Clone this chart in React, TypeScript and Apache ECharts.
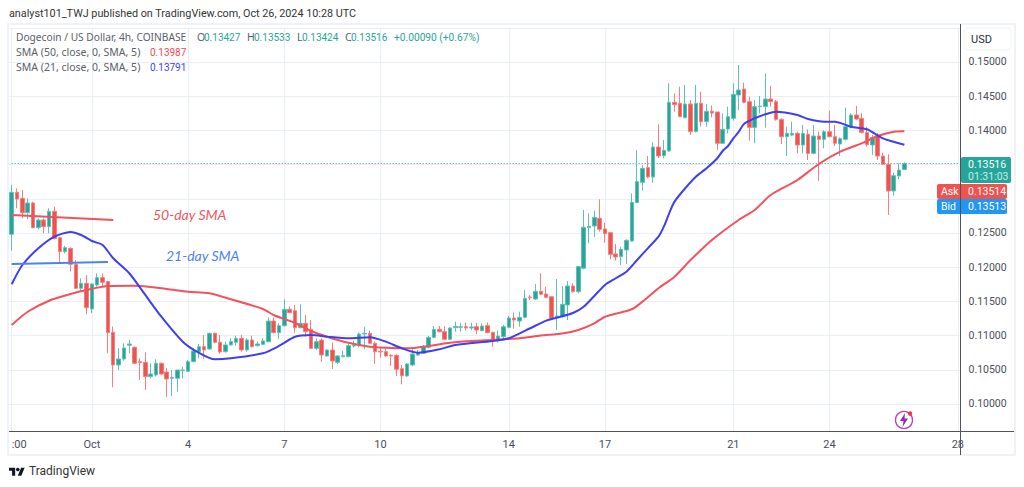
import React, { useEffect, useRef } from "react";
import * as echarts from "echarts";

// Each row: [open, close, low, high]
const candlesEarly = [
[0.12481,0.13095,0.12242,0.13202],[0.13095,0.12997,0.12861,0.13153],[0.13007,0.12797,0.12714,0.13129],[0.12797,0.12939,0.12700,0.13007],
[0.12939,0.12578,0.12568,0.12958],[0.12578,0.12690,0.12554,0.12714],[0.12690,0.12593,0.12495,0.12714],[0.12593,0.12817,0.12495,0.12861],
[0.12817,0.12417,0.12407,0.12885],[0.12432,0.12227,0.12066,0.12446],[0.12227,0.12286,0.12203,0.12310],[0.12276,0.12042,0.11935,0.12286],
[0.12042,0.11691,0.11681,0.12105],[0.11691,0.11764,0.11657,0.11837],[0.11764,0.11408,0.11316,0.11886],[0.11389,0.11754,0.11326,0.11764],
[0.11740,0.11847,0.11715,0.11910],[0.11847,0.11779,0.11715,0.11910],[0.11789,0.11043,0.10741,0.11798],[0.11048,0.10570,0.10244,0.11131],
[0.10570,0.10658,0.10497,0.10814],[0.10658,0.10819,0.10634,0.10887],[0.10858,0.10877,0.10741,0.10936],[0.10829,0.10595,0.10585,0.10838],
[0.10619,0.10604,0.10351,0.10668],[0.10609,0.10400,0.10205,0.10755],[0.10400,0.10439,0.10375,0.10595],[0.10424,0.10595,0.10400,0.10653],
[0.10595,0.10439,0.10424,0.10604],[0.10468,0.10366,0.10107,0.10522],[0.10375,0.10390,0.10117,0.10497],[0.10375,0.10497,0.10180,0.10497],
[0.10488,0.10497,0.10375,0.10546],[0.10478,0.10619,0.10468,0.10643],[0.10619,0.10775,0.10609,0.10814],[0.10765,0.10838,0.10668,0.10877],
[0.10838,0.10790,0.10658,0.11009],[0.10804,0.11033,0.10790,0.11043],[0.11033,0.10902,0.10887,0.11043],[0.10902,0.10760,0.10731,0.11009],
[0.10765,0.10863,0.10751,0.10911],[0.10863,0.10911,0.10853,0.10960],[0.10902,0.10960,0.10853,0.10999],[0.10960,0.10790,0.10765,0.11009],
[0.10790,0.10936,0.10765,0.10960],[0.10936,0.10838,0.10824,0.10999],[0.10853,0.10877,0.10838,0.10911],
];
const candlesMiddle = [
[0.10872,0.10921,0.10862,0.10960],[0.10911,0.11213,0.10901,0.11267],[0.11213,0.11043,0.11033,0.11267],[0.11043,0.11145,0.10950,0.11179],
[0.11145,0.11384,0.11130,0.11530],[0.11384,0.11335,0.11325,0.11423],[0.11364,0.11116,0.11043,0.11447],[0.11116,0.11179,0.11106,0.11457],
[0.11179,0.11057,0.10984,0.11301],[0.11091,0.10814,0.10814,0.11228],[0.10814,0.10911,0.10789,0.10960],[0.10935,0.10716,0.10619,0.10960],
[0.10702,0.10789,0.10692,0.10799],[0.10789,0.10628,0.10512,0.10897],[0.10609,0.10702,0.10585,0.10716],[0.10692,0.10706,0.10682,0.10780],
[0.10692,0.10853,0.10682,0.10887],[0.10848,0.10862,0.10828,0.10926],[0.10853,0.11023,0.10828,0.11043],[0.11023,0.11033,0.10799,0.11130],
[0.11033,0.10887,0.10877,0.11072],[0.10887,0.10765,0.10585,0.10911],[0.10770,0.10760,0.10677,0.10828],[0.10765,0.10702,0.10692,0.10814],
[0.10711,0.10702,0.10555,0.10731],[0.10711,0.10507,0.10409,0.10726],[0.10516,0.10414,0.10287,0.10570],[0.10409,0.10585,0.10399,0.10595],
[0.10570,0.10731,0.10555,0.10799],[0.10716,0.10750,0.10702,0.10789],[0.10741,0.10838,0.10731,0.10862],[0.10828,0.10974,0.10814,0.10994],
[0.10974,0.11091,0.10960,0.11140],[0.11091,0.11057,0.11048,0.11140],[0.11057,0.10945,0.10935,0.11140],[0.10945,0.11111,0.10935,0.11121],
[0.11116,0.11135,0.11057,0.11203],[0.11121,0.11130,0.11057,0.11189],[0.11130,0.11111,0.11072,0.11189],[0.11111,0.11126,0.11082,0.11189],
[0.11130,0.11082,0.11023,0.11189],[0.11072,0.11140,0.11062,0.11179],[0.11145,0.11043,0.11033,0.11189],[0.11048,0.10921,0.10838,0.11057],
[0.10921,0.10994,0.10897,0.11072],[0.10984,0.11130,0.10935,0.11155],[0.11121,0.11257,0.11106,0.11286],[0.11257,0.11228,0.11101,0.11335],
[0.11213,0.11267,0.11130,0.11350],[0.11267,0.11545,0.11252,0.11666],[0.11564,0.11554,0.11520,0.11593],[0.11535,0.11647,0.11520,0.11754],
[0.11647,0.11603,0.11593,0.11910],
];
const candlesLate = [
[0.11608,0.11560,0.11545,0.11715],[0.11569,0.11253,0.11238,0.11569],[0.11267,0.11287,0.11082,0.11828],[0.11277,0.11457,0.11267,0.11725],
[0.11448,0.11725,0.11228,0.11798],[0.11725,0.11642,0.11628,0.11764],[0.11642,0.12008,0.11618,0.12018],[0.11984,0.12583,0.11969,0.12836],
[0.12578,0.12598,0.12349,0.12788],[0.12602,0.12729,0.12446,0.12827],[0.12715,0.12554,0.12520,0.12992],[0.12559,0.12490,0.12359,0.12651],
[0.12505,0.12188,0.12115,0.12510],[0.12193,0.12149,0.12096,0.12339],[0.12154,0.12261,0.12032,0.12300],[0.12252,0.12393,0.12047,0.12407],
[0.12383,0.12948,0.12373,0.13080],[0.12944,0.13251,0.12934,0.13713],[0.13241,0.13445,0.13119,0.13494],[0.13455,0.13319,0.13299,0.13626],
[0.13319,0.13757,0.13236,0.13826],[0.13757,0.13626,0.13592,0.14089],[0.13631,0.13709,0.13592,0.13860],[0.13699,0.14410,0.13689,0.14688],
[0.14410,0.14376,0.14274,0.14542],[0.14396,0.14201,0.14201,0.14639],[0.14186,0.14386,0.14176,0.14664],[0.14386,0.13982,0.13933,0.14444],
[0.13982,0.14396,0.13972,0.14664],[0.14396,0.14128,0.14055,0.14566],[0.14128,0.14279,0.14055,0.14386],[0.14279,0.14254,0.14191,0.14362],
[0.14269,0.13811,0.13713,0.14269],[0.13811,0.14016,0.13801,0.14250],[0.14020,0.14201,0.13957,0.14347],[0.14176,0.14527,0.14142,0.14688],
[0.14517,0.14590,0.14298,0.14956],[0.14605,0.14410,0.14395,0.14697],[0.14420,0.14044,0.13850,0.14493],[0.14044,0.14347,0.13811,0.14444],
[0.14347,0.14356,0.14249,0.14503],[0.14347,0.14459,0.14040,0.14834],[0.14459,0.14420,0.14347,0.14649],[0.14420,0.14161,0.14142,0.14444],
[0.14161,0.13908,0.13801,0.14176],[0.13908,0.13957,0.13625,0.14054],[0.13932,0.13957,0.13918,0.14127],[0.13957,0.13786,0.13664,0.13981],
[0.13786,0.13957,0.13664,0.14079],[0.13942,0.13664,0.13567,0.14015],[0.13664,0.13918,0.13655,0.14079],[0.13918,0.13869,0.13265,0.13981],
[0.13869,0.13981,0.13737,0.14005],[0.13981,0.13908,0.13898,0.14288],[0.13908,0.13811,0.13772,0.14079],[0.13801,0.13879,0.13625,0.13898],
[0.13869,0.14054,0.13850,0.14332],[0.14044,0.14225,0.14030,0.14249],[0.14225,0.14166,0.14152,0.14356],[0.14176,0.13971,0.13957,0.14249],
[0.13971,0.13791,0.13762,0.14054],[0.13786,0.13898,0.13640,0.13932],[0.13918,0.13625,0.13567,0.13957],[0.13625,0.13504,0.13494,0.13674],
[0.13504,0.13114,0.12763,0.13650],[0.13114,0.13338,0.13046,0.13382],[0.13333,0.13421,0.13289,0.13517],[0.13427,0.13516,0.13424,0.13533],
];

// SMA readings: [candle index, value]
const sma50 = [
[0,0.11155],[3,0.11349],[7,0.11510],[11,0.11608],[14,0.11667],[18,0.11725],[23,0.11729],[29,0.11681],[33,0.11642],[37,0.11618],
[41,0.11531],[47,0.11389],[49,0.11301],[53,0.11184],[56,0.11067],[59,0.10984],[63,0.10896],[67,0.10838],[70,0.10823],[74,0.10814],
[78,0.10848],[82,0.10896],[85,0.10917],[90,0.10936],[95,0.10960],[99,0.11000],[103,0.11030],[106,0.11082],[109,0.11180],[111,0.11276],
[116,0.11385],[118,0.11496],[121,0.11692],[124,0.11861],[127,0.12105],[131,0.12398],[136,0.12690],[139,0.12836],[142,0.13056],[147,0.13275],
[151,0.13509],[155,0.13689],[159,0.13811],[162,0.13918],[165,0.13981],[167,0.13987],
];
const sma21 = [
[0,0.11750],[2,0.12032],[5,0.12276],[8,0.12446],[11,0.12515],[13,0.12471],[15,0.12383],[17,0.12325],[19,0.12130],[22,0.11911],
[25,0.11594],[28,0.11276],[32,0.10911],[35,0.10750],[38,0.10654],[41,0.10668],[47,0.10741],[50,0.10848],[53,0.10984],[56,0.11009],
[59,0.10984],[63,0.10960],[67,0.10975],[70,0.10911],[73,0.10814],[76,0.10750],[80,0.10800],[83,0.10863],[90,0.10921],[93,0.10960],
[97,0.11107],[100,0.11218],[102,0.11262],[105,0.11330],[107,0.11422],[109,0.11579],[111,0.11740],[113,0.11838],[115,0.11934],[117,0.12105],
[119,0.12276],[121,0.12446],[122,0.12592],[123,0.12788],[124,0.12958],[126,0.13154],[128,0.13323],[130,0.13446],[132,0.13592],[133,0.13699],
[134,0.13772],[135,0.13884],[136,0.13977],[137,0.14094],[139,0.14177],[141,0.14235],[143,0.14273],[147,0.14225],[149,0.14167],[152,0.14127],
[154,0.14127],[157,0.14054],[160,0.14016],[163,0.13884],[167,0.13791],
];
const note50Line = [[0,0.12763],[19,0.12690]];
const note21Line = [[0,0.12047],[18,0.12076]];
const lastPriceLine = [[0,0.13516],[177,0.13516]];

const axisSlots = 178;
const xTicks: Record<number, string> = { 0: ":00", 15: "Oct", 33: "4", 51: "7", 69: "10", 93: "14", 111: "17", 135: "21", 153: "24", 177: "28" };
const yLabels = [0.1, 0.105, 0.11, 0.115, 0.12, 0.125, 0.14, 0.145, 0.15];

const GREEN = "#26a69a";
const RED = "#ef5350";
const GREEN_SOFT = "#63c0b6";
const RED_SOFT = "#f47f7c";
const FONT = "Roboto, sans-serif";
const WIDE = "'Noto Sans', sans-serif";

const TV_LOGO = "M14 22H7V11H0V4h14v18zM28 22h-8l7.5-18h8L28 22z";
const BOLT = "M5 0L0 8h3.5L2.5 14L8 5.5H4.5z";

export default function App() {
  const ref = useRef<HTMLDivElement>(null);
  useEffect(() => {
    if (!ref.current) return;
    echarts.graphic.registerShape("tvmark", (echarts.graphic as any).extendPath(TV_LOGO, {}));
    echarts.graphic.registerShape("bolt", (echarts.graphic as any).extendPath(BOLT, {}));

    const chart = echarts.init(ref.current, undefined, { renderer: "svg" });
    const candles = [...candlesEarly, ...candlesMiddle, ...candlesLate];
    const categories = Array.from({ length: axisSlots }, (_, i) => xTicks[i] ?? "");
    const isTick = (i: number) => xTicks[i] !== undefined;
    const txt = (x: number, y: number, text: string, fill: string, size = 10.5, family = FONT, extra: any = {}) => ({
      type: "text", x, y, z: 20,
      style: { text, fill, font: `${size}px ${family}`, align: "left", verticalAlign: "middle", ...extra },
    });
    const box = (x: number, y: number, width: number, height: number, fill: string, r: any = 2) => ({
      type: "rect", z: 19, shape: { x, y, width, height, r }, style: { fill },
    });
    const option: any = {
      animation: false,
      backgroundColor: "#ffffff",
      grid: { left: 9, top: 28, width: 951.5, height: 403, containLabel: false },
      xAxis: {
        type: "category",
        data: categories,
        boundaryGap: true,
        axisLine: { show: true, lineStyle: { color: "#50535e", width: 1 } },
        axisTick: { show: false },
        axisLabel: {
          interval: (i: number) => isTick(i),
          color: "#4a4e5a",
          fontSize: 11,
          fontFamily: FONT,
          margin: 8,
          hideOverlap: false,
          alignMinLabel: "left",
        },
        splitLine: {
          show: true,
          interval: (i: number) => isTick(i),
          alignWithLabel: true,
          lineStyle: { color: "#e9eff5", width: 1 },
        },
      },
      yAxis: {
        type: "value",
        position: "right",
        min: 0.09605,
        max: 0.15497,
        scale: true,
        splitNumber: 12,
        axisLine: { show: false },
        axisTick: { show: false },
        axisLabel: {
          customValues: yLabels,
          formatter: (v: number) => v.toFixed(5),
          color: "#4a4e5a",
          fontSize: 10.5,
          fontFamily: FONT,
          margin: 8,
        },
        splitLine: { show: true, lineStyle: { color: "#e9eff5", width: 1 } },
      },
      series: [
        { type: "line", name: "Last price", data: lastPriceLine, showSymbol: false, z: 1, lineStyle: { type: [1, 2], color: GREEN, width: 1 }, itemStyle: { color: GREEN } },
        {
          type: "candlestick",
          name: "Dogecoin / US Dollar",
          data: candles,
          z: 2,
          barWidth: 4,
          itemStyle: { color: GREEN, color0: RED, borderColor: GREEN_SOFT, borderColor0: RED_SOFT, borderWidth: 1 },
        },
        { type: "line", name: "SMA 50", data: sma50, smooth: 0.25, showSymbol: false, z: 5, lineStyle: { color: "#f4515c", width: 2 }, itemStyle: { color: "#f4515c" } },
        { type: "line", name: "SMA 21", data: sma21, smooth: 0.25, showSymbol: false, z: 6, lineStyle: { color: "#3f3ff0", width: 2 }, itemStyle: { color: "#3f3ff0" } },
        { type: "line", name: "50-day line", data: note50Line, showSymbol: false, z: 7, lineStyle: { color: "#f4515c", width: 2 } },
        { type: "line", name: "21-day line", data: note21Line, showSymbol: false, z: 7, lineStyle: { color: "#4a86e8", width: 2 } },
      ],
      graphic: { elements: [
        { type: "rect", z: 1, shape: { x: 8, y: 24, width: 1007, height: 431 }, style: { fill: "none", stroke: "#eff2f6", lineWidth: 2 } },
        { type: "line", z: 18, shape: { x1: 960.5, y1: 24, x2: 960.5, y2: 455 }, style: { stroke: "#50535e", lineWidth: 1 } },
        { type: "line", z: 18, shape: { x1: 960, y1: 431.5, x2: 1014, y2: 431.5 }, style: { stroke: "#50535e", lineWidth: 1 } },

        txt(9, 13, "analyst101_TWJ published on TradingView.com, Oct 26, 2024 10:28 UTC", "#333333", 10.8),

        txt(16, 37, "Dogecoin / US Dollar, 4h, COINBASE", "#5d606b", 10.2, WIDE),
        txt(197, 37, "O", "#5d606b", 10.5, WIDE),
        txt(204, 37, "0.13427", GREEN, 10),
        txt(247, 37, "H", "#5d606b", 10.5, WIDE),
        txt(254, 37, "0.13533", GREEN, 10),
        txt(297, 37, "L", "#5d606b", 10.5, WIDE),
        txt(302, 37, "0.13424", GREEN, 10),
        txt(345, 37, "C", "#5d606b", 10.5, WIDE),
        txt(351, 37, "0.13516", GREEN, 10),
        txt(394, 37, "+0.00090 (+0.67%)", GREEN, 10.2),
        txt(16, 52, "SMA (50, close, 0, SMA, 5)", "#5d606b", 10.5, WIDE),
        txt(150, 52, "0.13987", "#f44a55", 10),
        txt(16, 67, "SMA (21, close, 0, SMA, 5)", "#5d606b", 10.5, WIDE),
        txt(150, 67, "0.13791", "#3f3ff0", 10),

        txt(153, 214, "50-day SMA", "#f2565b", 14, "Lato, sans-serif", { font: "italic 14px Lato, sans-serif" }),
        txt(166, 255, "21-day SMA", "#4a7ff0", 14, "Lato, sans-serif", { font: "italic 14px Lato, sans-serif" }),

        { type: "rect", z: 19, shape: { x: 964, y: 28, width: 47, height: 22, r: 4 }, style: { fill: "#fff", stroke: "#eff2f6", lineWidth: 1 } },
        txt(971, 39, "USD", "#2a2e39", 11),

        box(961, 157, 50, 26, GREEN),
        txt(968, 164, "0.13516", "#ffffff"),
        txt(968, 176, "01:31:03", "#c9ece8"),
        box(937, 184, 23, 15, RED, [2, 0, 0, 2]),
        box(961, 184, 46, 15, RED, [0, 2, 2, 0]),
        txt(941, 191.5, "Ask", "#ffffff"),
        txt(968, 191.5, "0.13514", "#ffffff"),
        box(937, 199, 23, 15, "#2196f3", [2, 0, 0, 2]),
        box(961, 199, 46, 15, "#2196f3", [0, 2, 2, 0]),
        txt(941, 206.5, "Bid", "#ffffff"),
        txt(968, 206.5, "0.13513", "#ffffff"),

        { type: "circle", z: 19, shape: { cx: 904, cy: 420, r: 8.5 }, style: { fill: "#fff", stroke: "#ab47bc", lineWidth: 1.4 } },
        { type: "bolt", z: 20, x: 900, y: 413, scaleX: 1, scaleY: 1, style: { fill: "#9c27b0" } },
        { type: "circle", z: 21, shape: { cx: 910, cy: 413.5, r: 2.2 }, style: { fill: "#f23645" } },

        { type: "tvmark", z: 20, x: 9, y: 466, scaleX: 0.44, scaleY: 0.44, style: { fill: "#131722" } },
        { type: "circle", z: 20, shape: { cx: 17.8, cy: 469.5, r: 1.8 }, style: { fill: "#131722" } },
        txt(29, 471, "TradingView", "#333333", 12),
      ] },
    };
    chart.setOption(option);
    return () => chart.dispose();
  }, []);
  return <div ref={ref} style={{ position: "fixed", left: 0, top: 0, width: 1024, height: 487 }} />;
}
